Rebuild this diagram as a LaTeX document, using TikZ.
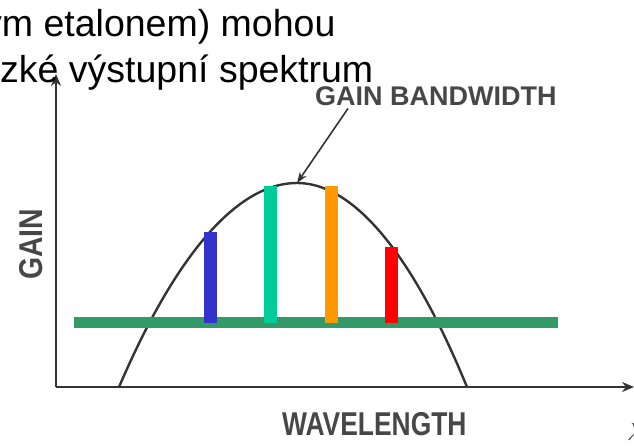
\documentclass[tikz,border=0pt]{standalone}
\usepackage{fontspec}
\usepackage{xcolor}
\setmainfont{Liberation Sans}
\usetikzlibrary{arrows.meta}
\definecolor{ScanGray}{HTML}{474747}
\definecolor{AxisGray}{HTML}{333333}
\definecolor{ModeBlue}{HTML}{3333CC}
\definecolor{ModeTeal}{HTML}{00CC99}
\definecolor{ModeOrange}{HTML}{FF9900}
\definecolor{ModeRed}{HTML}{FF0000}
\definecolor{LossGreen}{HTML}{339966}

\tikzset{
  scanlabel/.style={inner sep=0pt, text=ScanGray, font=\bfseries},
  axisline/.style={draw=AxisGray, line width=2.6pt, -{Stealth[length=12pt,width=10pt]}},
  modebar/.style={line width=13pt}
}

\begin{document}
\begin{tikzpicture}[x=1pt,y=-1pt]
    \useasboundingbox (0,0) rectangle (634,447);

    % gain curve and axes
    \coordinate (origin) at (56,387);
    \coordinate (peak) at (297,183);
    \draw[AxisGray, line width=2.4pt] (119,387) parabola bend (peak) (467,387);
    \draw[axisline] (origin) -- (56,74);
    \draw[axisline] (origin) -- (634,387);

    % threshold line and longitudinal modes
    \draw[LossGreen, line width=11pt] (74,322.5) -- (558,322.5);
    \foreach \xc/\ytop/\col in {210.5/232/ModeBlue, 270.5/186/ModeTeal,
                                331.5/186/ModeOrange, 391.5/247/ModeRed}
      \draw[modebar, \col] (\xc,323) -- (\xc,\ytop);

    % scanned labels
    \node[scanlabel, anchor=base west, font=\fontsize{27}{30}\selectfont\bfseries]
      (bandlabel) at (315,105) {GAIN BANDWIDTH};
    \node[scanlabel, anchor=base west, rotate=90, xscale=0.86,
      font=\fontsize{33}{36}\selectfont\bfseries] (gainlabel) at (42,280) {GAIN};
    \node[scanlabel, anchor=base west, xscale=0.8,
      font=\fontsize{33}{36}\selectfont\bfseries] (wavelabel) at (282,435) {WAVELENGTH};
    \node[scanlabel, anchor=base west, font=\fontsize{30}{32}\selectfont]
      (lambdalabel) at (627,440) {$\lambda$};
    \draw[AxisGray, line width=1.6pt, -{Stealth[length=11pt,width=8pt]}]
      ([shift={(33pt,-3pt)}]bandlabel.south west) -- (peak);

    % slide text
    \node[inner sep=0pt, anchor=base west, font=\fontsize{37.5}{46}\selectfont]
      (lineone) at (-17,36) {ým etalonem) mohou};
    \node[inner sep=0pt, anchor=base west, font=\fontsize{37.5}{46}\selectfont]
      (linetwo) at (0,82) {zké výstupní spektrum};
  \end{tikzpicture}
\end{document}
